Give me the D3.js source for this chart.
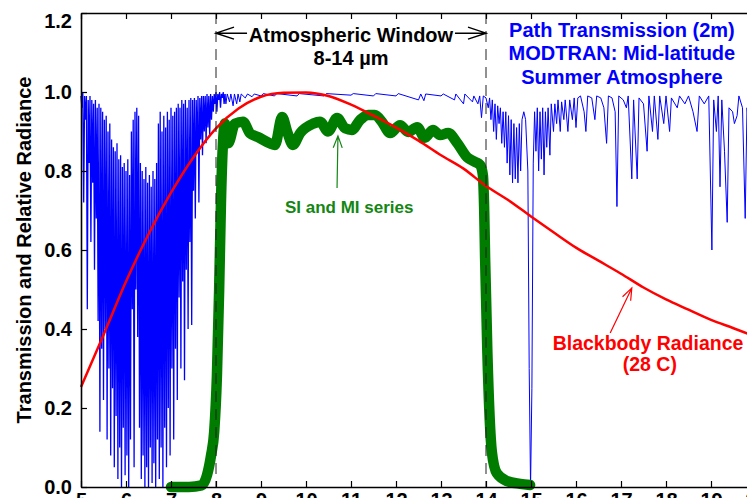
<!DOCTYPE html>
<html>
<head>
<meta charset="utf-8">
<script src="https://cdn.jsdelivr.net/npm/d3@7"></script>
<style>
body { margin: 0; background: #fff; }
svg { display: block; font-family: Arial, "Liberation Sans", sans-serif; font-weight: bold; }
</style>
</head>
<body>
<svg id="chart"></svg>
<script>
// axis ticks
var xTicks = [5, 6, 7, 8, 9, 10, 11, 12, 13, 14, 15, 16, 17, 18, 19, 20];
var yTicks = [0, 0.2, 0.4, 0.6, 0.8, 1.0, 1.2];

// path transmission, 5.0 - 8.2 um sampled every 0.02 um
var denseStart = 5.0;
var denseStep = 0.02;
var denseT = [
  0.99, 0.96, 1.0, 0.72, 0.99, 0.93, 0.99, 0.45, 0.98, 0.82,
  0.99, 0.62, 0.98, 0.77, 0.97, 0.55, 0.98, 0.68, 0.96, 0.42,
  0.97, 0.14, 0.96, 0.35, 0.95, 0.22, 0.93, 0.40, 0.94, 0.12,
  0.90, 0.30, 0.92, 0.08, 0.88, 0.25, 0.86, 0.05, 0.85, 0.18,
  0.87, 0.02, 0.83, 0.10, 0.84, 0.0, 0.81, 0.15, 0.82, 0.03,
  0.80, 0.08, 0.83, 0.0, 0.79, 0.12, 0.90, 0.45, 0.93, 0.05,
  0.95, 0.50, 0.96, 0.38, 0.94, 0.15, 0.82, 0.02, 0.80, 0.08,
  0.78, 0.0, 0.81, 0.05, 0.77, 0.0, 0.79, 0.10, 0.76, 0.01,
  0.80, 0.06, 0.78, 0.0, 0.82, 0.12, 0.92, 0.02, 0.95, 0.10,
  0.90, 0.0, 0.94, 0.15, 0.91, 0.05, 0.95, 0.20, 0.93, 0.08,
  0.96, 0.30, 0.94, 0.12, 0.95, 0.35, 0.96, 0.22, 0.97, 0.48,
  0.96, 0.30, 0.98, 0.52, 0.97, 0.27, 0.98, 0.55, 0.96, 0.40,
  0.98, 0.62, 0.985, 0.41, 0.98, 0.75, 0.985, 0.68, 0.98, 0.85,
  0.99, 0.72, 0.985, 0.88, 0.99, 0.84, 0.99, 0.90, 0.99, 0.87,
  0.995, 0.91, 0.99, 0.89, 0.995, 0.93, 0.99, 0.95, 0.995, 0.97,
  1.0, 0.95, 0.995, 0.98, 1.0, 0.96, 0.995, 0.985, 1.0, 0.97,
  0.995
];

// path transmission beyond 8.2 um: [wavelength, transmission]
var pathLines = [
  [8.2, 0.995],
  [8.22, 0.97], [8.25, 0.995], [8.3, 0.975], [8.33, 0.995], [8.38, 0.965], [8.41, 0.995],
  [8.46, 0.97], [8.49, 0.995], [8.53, 0.975], [8.56, 0.995], [8.65, 0.985], [8.7, 0.995],
  [8.8, 0.988], [8.85, 0.995], [9.0, 0.99], [9.05, 0.996], [9.3, 0.99], [9.35, 0.996],
  [9.8, 0.99], [9.85, 0.996], [10.4, 0.99], [10.45, 0.996], [11.0, 0.992], [11.05, 0.996],
  [11.5, 0.99], [11.55, 0.996], [12.0, 0.99], [12.05, 0.996], [12.5, 0.98], [12.55, 0.995],
  [12.62, 0.978], [12.66, 0.995], [13.0, 0.99], [13.05, 0.995], [13.3, 0.98], [13.33, 0.995],
  [13.5, 0.97], [13.53, 0.995], [13.7, 0.975], [13.73, 0.99], [13.82, 0.97], [13.86, 0.99],
  [13.9, 0.935], [13.94, 0.99], [14.0, 0.985], [14.05, 0.96], [14.08, 0.985], [14.11, 0.93],
  [14.14, 0.98], [14.17, 0.9], [14.2, 0.97], [14.23, 0.88], [14.26, 0.965], [14.29, 0.92],
  [14.32, 0.96], [14.35, 0.87], [14.38, 0.95], [14.41, 0.86], [14.44, 0.95], [14.47, 0.82],
  [14.5, 0.94], [14.53, 0.79], [14.56, 0.93], [14.59, 0.77], [14.62, 0.92], [14.65, 0.78],
  [14.68, 0.91], [14.71, 0.77], [14.74, 0.92], [14.77, 0.80], [14.8, 0.93], [14.84, 0.95],
  [14.88, 0.93], [14.93, 0.80], [14.96, 0.30], [14.99, 0.0], [15.02, 0.25], [15.05, 0.82],
  [15.08, 0.95], [15.11, 0.85], [15.14, 0.96], [15.17, 0.80], [15.2, 0.95], [15.23, 0.83],
  [15.26, 0.96], [15.29, 0.79], [15.32, 0.95], [15.35, 0.86], [15.38, 0.96], [15.42, 0.84],
  [15.45, 0.97], [15.5, 0.9], [15.53, 0.97], [15.57, 0.92], [15.6, 0.98], [15.65, 0.9],
  [15.68, 0.975], [15.73, 0.93], [15.76, 0.98], [15.82, 0.9], [15.86, 0.98], [15.92, 0.93],
  [15.96, 0.985], [16.0, 0.91], [16.04, 0.985], [16.1, 0.99], [16.18, 0.95], [16.22, 0.9],
  [16.26, 0.99], [16.35, 0.985], [16.42, 0.93], [16.46, 0.99], [16.55, 0.985], [16.62, 0.96],
  [16.68, 0.87], [16.72, 0.99], [16.8, 0.985], [16.87, 0.95], [16.91, 0.71], [16.95, 0.99],
  [17.05, 0.98], [17.12, 0.96], [17.16, 0.99], [17.24, 0.78], [17.28, 0.98], [17.36, 0.78],
  [17.4, 0.985], [17.5, 0.97], [17.58, 0.85], [17.62, 0.99], [17.7, 0.9], [17.74, 0.99],
  [17.82, 0.88], [17.86, 0.99], [17.95, 0.92], [18.0, 0.99], [18.08, 0.9], [18.12, 0.985],
  [18.25, 0.96], [18.3, 0.99], [18.42, 0.97], [18.5, 0.99], [18.6, 0.95], [18.69, 0.9],
  [18.74, 0.99], [18.85, 0.97], [18.95, 0.99], [19.02, 0.60], [19.06, 0.98], [19.12, 0.9],
  [19.16, 0.99], [19.2, 0.76], [19.24, 0.98], [19.3, 0.85], [19.36, 0.67], [19.4, 0.96],
  [19.48, 0.95], [19.52, 0.92], [19.58, 0.94], [19.62, 0.99], [19.7, 0.96], [19.76, 0.68],
  [19.8, 0.96], [19.85, 0.9], [20.0, 0.98]
];

// blackbody radiance (28 C), relative
var bbWl = [5, 5.5, 6, 6.5, 7, 7.5, 8, 8.5, 9, 9.5, 10, 10.5, 11, 11.5, 12, 12.5,
            13, 13.5, 14, 14.5, 15, 15.5, 16, 16.5, 17, 17.5, 18, 18.5, 19, 19.5, 20];
var bbVal = [0.253, 0.385, 0.52, 0.64, 0.745, 0.835, 0.908, 0.958, 0.988, 0.998, 0.999, 0.99,
             0.968, 0.94, 0.91, 0.877, 0.84, 0.806, 0.762, 0.726, 0.685, 0.645, 0.606,
             0.573, 0.54, 0.505, 0.475, 0.449, 0.423, 0.402, 0.38];

// SI and MI series
var siWl = [7.0, 7.4, 7.68, 7.8, 7.89, 7.96, 8.02, 8.07, 8.11, 8.15, 8.2, 8.27, 8.42, 8.6,
            8.76, 8.93, 9.2, 9.31, 9.47, 9.58, 9.71, 9.87, 10.16, 10.31, 10.49, 10.69, 10.87,
            11.02, 11.2, 11.38, 11.53, 11.69, 11.87, 12.09, 12.27, 12.47, 12.64, 12.82, 12.98,
            13.16, 13.36, 13.58, 13.76, 13.87, 13.93, 13.96, 13.98, 14.03, 14.13, 14.24,
            14.47, 14.76, 14.98];
var siVal = [0.0, 0.0, 0.004, 0.03, 0.08, 0.14, 0.28, 0.5, 0.72, 0.86, 0.92, 0.87, 0.92, 0.925,
             0.895, 0.886, 0.87, 0.866, 0.937, 0.90, 0.866, 0.896, 0.92, 0.925, 0.90, 0.934, 0.908,
             0.904, 0.929, 0.942, 0.942, 0.924, 0.896, 0.916, 0.899, 0.911, 0.884, 0.904, 0.891,
             0.896, 0.871, 0.835, 0.823, 0.815, 0.79, 0.70, 0.58, 0.342, 0.089, 0.035,
             0.015, 0.008, 0.005];

var windowEdges = [8, 14];

var width = 747;
var height = 498;

var svg = d3.select("#chart")
  .attr("width", width)
  .attr("height", height);

var xScale = d3.scaleLinear().domain([5, 20]).range([81, 756]);
var yScale = d3.scaleLinear().domain([0, 1.2]).range([487, 13]);

var denseData = denseT.map(function(t, i) {
  return [denseStart + i * denseStep, t];
});

var line = d3.line()
  .x(function(d) { return xScale(d[0]); })
  .y(function(d) { return yScale(d[1]); });

// dense water band drawn a touch heavier so it reads as a filled mass
svg.append("path")
  .datum(denseData)
  .attr("d", line)
  .attr("fill", "none")
  .attr("stroke", "#0000ff")
  .attr("stroke-width", 1.3);

svg.append("path")
  .datum(pathLines)
  .attr("d", line)
  .attr("fill", "none")
  .attr("stroke", "#0000ff")
  .attr("stroke-width", 1);

// green series, drawn under the red curve
var siData = siWl.map(function(w, i) { return [w, siVal[i]]; });
svg.append("path")
  .datum(siData)
  .attr("d", line.curve(d3.curveMonotoneX))
  .attr("fill", "none")
  .attr("stroke", "#007d00")
  .attr("stroke-width", 10.5)
  .attr("stroke-linecap", "round")
  .attr("stroke-linejoin", "round");

var bbData = bbWl.map(function(w, i) { return [w, bbVal[i]]; });
svg.append("path")
  .datum(bbData)
  .attr("d", line.curve(d3.curveMonotoneX))
  .attr("fill", "none")
  .attr("stroke", "#ff0000")
  .attr("stroke-width", 2.5);

// window edges
svg.selectAll(".edge")
  .data(windowEdges)
  .enter()
  .append("line")
  .attr("class", "edge")
  .attr("x1", function(d) { return xScale(d); })
  .attr("x2", function(d) { return xScale(d); })
  .attr("y1", yScale(1.2))
  .attr("y2", yScale(0))
  .attr("stroke", "#222")
  .attr("stroke-width", 1)
  .attr("stroke-dasharray", "11,7");

// axes
var font = "Arial, 'Liberation Sans', sans-serif";

function styleAxis(g) {
  g.attr("font-family", font).attr("font-size", 20).attr("font-weight", "bold");
  g.select(".domain").attr("stroke", "#000").attr("stroke-width", 1.6);
  g.selectAll(".tick line").attr("stroke", "#000").attr("stroke-width", 1.2);
  g.selectAll(".tick text").attr("fill", "#000");
}

svg.append("g")
  .attr("transform", "translate(0," + yScale(0) + ")")
  .call(d3.axisBottom(xScale).tickValues(xTicks).tickFormat(d3.format("d"))
    .tickSizeInner(-6).tickSizeOuter(0).tickPadding(6))
  .call(styleAxis);

svg.append("g")
  .attr("transform", "translate(0," + yScale(1.2) + ")")
  .call(d3.axisTop(xScale).tickValues(xTicks).tickFormat("")
    .tickSizeInner(-6).tickSizeOuter(0))
  .call(styleAxis);

var yAxisG = svg.append("g")
  .attr("transform", "translate(" + xScale(5) + ",0)")
  .call(d3.axisLeft(yScale).tickValues(yTicks).tickFormat(d3.format(".1f"))
    .tickSizeInner(-6).tickSizeOuter(0).tickPadding(9))
  .call(styleAxis);

// the top label sits a little lower than its tick
yAxisG.selectAll(".tick text")
  .filter(function(d) { return d === 1.2; })
  .attr("dy", "0.72em");

svg.append("g")
  .attr("transform", "translate(" + xScale(20) + ",0)")
  .call(d3.axisRight(yScale).tickValues(yTicks).tickFormat("")
    .tickSizeInner(-6).tickSizeOuter(0))
  .call(styleAxis);

svg.append("text")
  .attr("transform", "translate(31," + ((yScale(0) + yScale(1.2)) / 2) + ") rotate(-90)")
  .attr("text-anchor", "middle")
  .attr("font-size", 20)
  .attr("fill", "#000")
  .text("Transmission and Relative Radiance");

// annotations, positioned in data units
var labels = [
  { text: "Path Transmission (2m)", x: 17.02, y: 1.139, color: "#0000ff", size: 20 },
  { text: "MODTRAN: Mid-latitude", x: 17.02, y: 1.08, color: "#0000ff", size: 20 },
  { text: "Summer Atmosphere", x: 17.02, y: 1.021, color: "#0000ff", size: 20 },
  { text: "Atmospheric Window", x: 11, y: 1.126, color: "#000", size: 20 },
  { text: "8-14 \u00b5m", x: 11, y: 1.068, color: "#000", size: 20 },
  { text: "SI and MI series", x: 10.96, y: 0.694, color: "#138613", size: 17 },
  { text: "Blackbody Radiance", x: 17.6, y: 0.347, color: "#ff0000", size: 19.5 },
  { text: "(28 C)", x: 17.64, y: 0.294, color: "#ff0000", size: 19.5 }
];

svg.selectAll(".label")
  .data(labels)
  .enter()
  .append("text")
  .attr("class", "label")
  .attr("x", function(d) { return xScale(d.x); })
  .attr("y", function(d) { return yScale(d.y); })
  .attr("text-anchor", "middle")
  .attr("font-size", function(d) { return d.size; })
  .attr("fill", function(d) { return d.color; })
  .text(function(d) { return d.text; });

var arrows = [
  { from: [8.69, 1.149], to: [8.0, 1.149], color: "#000", width: 1.5, head: 18, half: 6 },
  { from: [13.31, 1.149], to: [14.0, 1.149], color: "#000", width: 1.5, head: 18, half: 6 },
  { from: [10.69, 0.757], to: [10.71, 0.889], color: "#138613", width: 1.2, head: 12, half: 4.5 },
  { from: [16.76, 0.39], to: [17.24, 0.504], color: "#ff0000", width: 1.2, head: 12, half: 4.5 }
];

svg.selectAll(".arrow")
  .data(arrows)
  .enter()
  .append("path")
  .attr("class", "arrow")
  .attr("d", function(d) {
    var x0 = xScale(d.from[0]), y0 = yScale(d.from[1]);
    var x1 = xScale(d.to[0]), y1 = yScale(d.to[1]);
    var a = Math.atan2(y1 - y0, x1 - x0);
    var bx = x1 - d.head * Math.cos(a), by = y1 - d.head * Math.sin(a);
    var px = -Math.sin(a) * d.half, py = Math.cos(a) * d.half;
    return "M" + x0 + "," + y0 + "L" + x1 + "," + y1 +
      "M" + (bx + px) + "," + (by + py) + "L" + x1 + "," + y1 + "L" + (bx - px) + "," + (by - py);
  })
  .attr("fill", "none")
  .attr("stroke", function(d) { return d.color; })
  .attr("stroke-width", function(d) { return d.width; });
</script>
</body>
</html>
